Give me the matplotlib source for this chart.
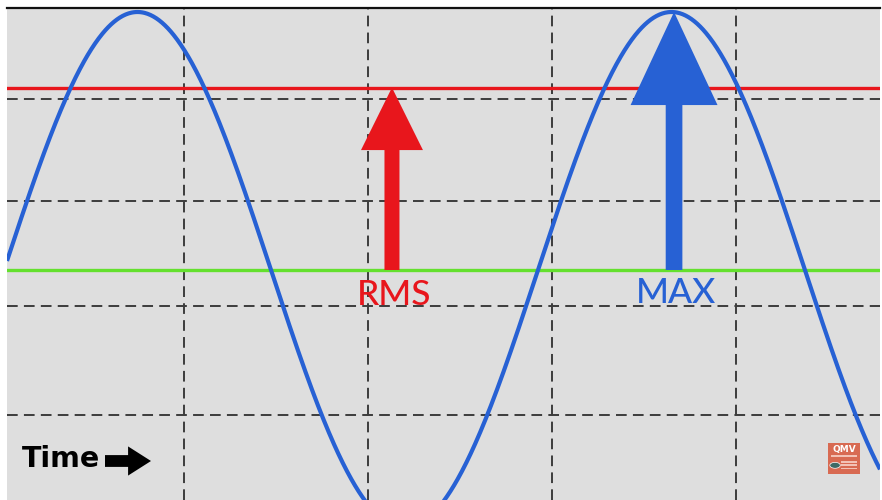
import numpy as np
import matplotlib
matplotlib.use("Agg")
import matplotlib.pyplot as plt
from matplotlib.patches import Rectangle, Circle

# Signal parameters (time in grid divisions, level relative to the peak)
PEAK = 1.0
RMS = PEAK / np.sqrt(2)
PERIOD = 2.902          # divisions per cycle
PHASE = 0.0245          # time of the first upward zero crossing

# Grid positions
grid_x = [1, 2, 3, 4]
grid_y = [0.6616, 0.2674, -0.1395, -0.562]

# Arrow positions along the time axis
rms_x = 2.133
max_x = 3.666

labels = ["RMS", "MAX"]

BG = "#dedede"
RED = "#e8161c"
BLUE = "#2761d4"
GREEN = "#64e02e"
GRID = "#3c3c3c"

fig = plt.figure(figsize=(8.82, 5), dpi=100)
fig.patch.set_facecolor("white")
ax = fig.add_axes([7 / 882, 0, 873 / 882, 492 / 500])
ax.set_facecolor(BG)
ax.set_xlim(7.5 / 184, 880.5 / 184)
ax.set_ylim(-230 / 258, 262 / 258)
for side in ("left", "right", "bottom"):
    ax.spines[side].set_visible(False)
ax.spines["top"].set_color("#111111")
ax.spines["top"].set_linewidth(1.6)
ax.set_xticks([])
ax.set_yticks([])

# dashed graticule
for gx in grid_x:
    ax.axvline(gx, color=GRID, lw=1.4, ls=(0, (5.5, 3.2)), zorder=1)
for gy in grid_y:
    ax.axhline(gy, color=GRID, lw=1.4, ls=(0, (5.5, 3.2)), zorder=1)

# reference levels
ax.axhline(0, color=GREEN, lw=2.4, zorder=2)
ax.axhline(RMS, color=RED, lw=2.4, zorder=2)

# the waveform
t = np.linspace(*ax.get_xlim(), 1200)
ax.plot(t, PEAK * np.sin(2 * np.pi * (t - PHASE) / PERIOD),
        color=BLUE, lw=3.0, zorder=3, solid_capstyle="butt")

# level arrows
ax.annotate("", xy=(rms_x, RMS), xytext=(rms_x, 0),
            arrowprops=dict(arrowstyle="simple,head_length=45,head_width=44.6,tail_width=10.8",
                            mutation_scale=1, color=RED, lw=0, shrinkA=0, shrinkB=0),
            zorder=4)
ax.annotate("", xy=(max_x, PEAK), xytext=(max_x, 0),
            arrowprops=dict(arrowstyle="simple,head_length=67,head_width=62.6,tail_width=12",
                            mutation_scale=1, color=BLUE, lw=0, shrinkA=0, shrinkB=0),
            zorder=4)

label_font = ["Lato", "DejaVu Sans"]
ax.text(rms_x + 0.012, -0.1357, labels[0], color=RED, fontsize=25.5,
        family=label_font, fontweight="medium", ha="center", va="baseline", zorder=5)
ax.text(max_x + 0.01, -0.126, labels[1], color=BLUE, fontsize=25.5,
        family=label_font, fontweight="medium", ha="center", va="baseline", zorder=5)

# time direction marker
ax.text(15 / 873, 33 / 492, "Time", color="black", fontsize=20.5,
        fontweight="bold", family="DejaVu Sans", ha="left", va="baseline",
        transform=ax.transAxes, zorder=5)
ax.annotate("", xy=(144 / 873, 39 / 492), xytext=(98 / 873, 39 / 492),
            xycoords="axes fraction", textcoords="axes fraction",
            arrowprops=dict(arrowstyle="simple,head_length=16.5,head_width=21,tail_width=8.5",
                            mutation_scale=1, color="black", lw=0, shrinkA=0, shrinkB=0),
            zorder=5)

# small badge in the corner
bx, by, bw, bh = 821 / 873, 26 / 492, 32 / 873, 31 / 492
ax.add_patch(Rectangle((bx, by), bw, bh, transform=ax.transAxes,
                       facecolor="#d86a52", edgecolor="none", zorder=6))
ax.text(bx + bw / 2, by + bh * 0.78, "QMV", transform=ax.transAxes,
        color="white", fontsize=6.5, fontweight="bold", ha="center", va="center", zorder=7)
ax.add_patch(Rectangle((bx + bw * 0.1, by + bh * 0.56), bw * 0.8, bh * 0.06,
                       transform=ax.transAxes, facecolor="#f2c2b6", edgecolor="none", zorder=7))
ax.add_patch(Circle((bx + bw * 0.22, by + bh * 0.28), 0.006, transform=ax.transAxes,
                    facecolor="#3d6a66", edgecolor="white", lw=0.5, zorder=7))
for k in range(3):
    ax.add_patch(Rectangle((bx + bw * 0.42, by + bh * (0.15 + 0.11 * k)), bw * 0.48, bh * 0.05,
                           transform=ax.transAxes, facecolor="#f2c2b6", edgecolor="none", zorder=7))

fig.savefig("out.png", dpi=100, facecolor=fig.get_facecolor())
